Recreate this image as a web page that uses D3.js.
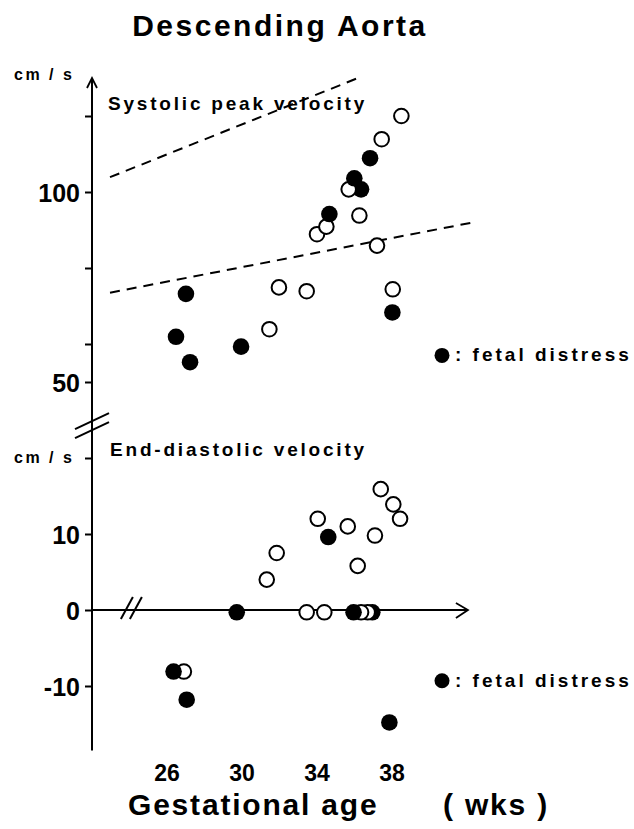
<!DOCTYPE html>
<html>
<head>
<meta charset="utf-8">
<script src="https://cdn.jsdelivr.net/npm/d3@7/dist/d3.min.js"></script>
<style>
  body { margin: 0; background: #fff; }
  svg text { font-family: "Liberation Sans", Arial, sans-serif; font-weight: bold; fill: #000; }
</style>
</head>
<body>
<div id="chart"></div>
<script>
// Systolic peak velocity (cm/s) - weeks, values, fetal distress flag
const sysWeeks    = [38.5, 37.45, 36.83, 36.35, 35.69, 35.99, 36.26, 34.0, 34.5, 34.66, 37.2, 31.97, 33.45, 38.04, 27.01, 38.02, 31.46, 26.48, 29.95, 27.23];
const sysValues   = [120, 113.9, 108.9, 100.7, 100.7, 103.6, 93.8, 88.9, 90.9, 94.2, 85.9, 74.9, 73.9, 74.4, 73.2, 68.3, 63.9, 61.9, 59.3, 55.2];
const sysDistress = [0, 0, 1, 1, 0, 1, 0, 0, 0, 1, 0, 0, 0, 0, 1, 1, 0, 1, 1, 1];

// End-diastolic velocity (cm/s)
const edvWeeks    = [37.4, 38.07, 38.43, 34.04, 35.64, 34.6, 37.09, 31.85, 36.17, 31.32, 29.72, 33.45, 34.39, 36.95, 36.7, 36.35, 35.95, 26.9, 26.35, 27.05, 37.86];
const edvValues   = [15.9, 13.9, 12.0, 12.0, 11.0, 9.6, 9.8, 7.5, 5.8, 4.0, -0.3, -0.3, -0.3, -0.3, -0.3, -0.3, -0.3, -8.1, -8.1, -11.8, -14.8];
const edvDistress = [0, 0, 0, 0, 0, 1, 0, 0, 0, 0, 1, 0, 0, 1, 0, 0, 1, 0, 1, 1, 1];

// normal range (dashed lines)
const upperWeeks  = [22.96, 36.29];
const upperValues = [103.9, 130.2];
const lowerWeeks  = [22.96, 42.32];
const lowerValues = [73.5, 92.0];

// ticks
const xTicks   = [26, 30, 34, 38];
const sysTicks = [50, 60, 80, 100, 120];
const sysLabels = [50, 100];
const edvTicks = [-10, 0, 10, 20];
const edvLabels = [-10, 0, 10];

const width = 634, height = 829;

const svg = d3.select('#chart')
    .append('svg')
    .attr('width', width)
    .attr('height', height);

// scales
const x = d3.scaleLinear().domain([22, 42]).range([92, 467]);
const yTop = d3.scaleLinear().domain([50, 100]).range([382, 192]);
const yBot = d3.scaleLinear().domain([0, 10]).range([610, 534]);

const axisX = x(22);

// title
svg.append('text')
    .attr('x', 280).attr('y', 36)
    .attr('text-anchor', 'middle')
    .style('font-size', '30px')
    .style('letter-spacing', '2.5px')
    .text('Descending Aorta');

// vertical axis line (one line through both panels)
const yAxisTop = yTop(130), yAxisBottom = yBot(-18.5);
svg.append('line')
    .attr('x1', axisX).attr('x2', axisX)
    .attr('y1', yAxisTop).attr('y2', yAxisBottom)
    .attr('stroke', '#000').attr('stroke-width', 2);

// arrow head
svg.append('path')
    .attr('d', `M${axisX - 5},${yAxisTop + 10} L${axisX},${yAxisTop} L${axisX + 5},${yAxisTop + 10}`)
    .attr('fill', 'none').attr('stroke', '#000').attr('stroke-width', 1.8);

// left axes with ticks
function leftAxis(scale, ticks, labels) {
    const g = svg.append('g')
        .attr('transform', `translate(${axisX},0)`)
        .call(d3.axisLeft(scale)
            .tickValues(ticks)
            .tickSize(7)
            .tickPadding(5)
            .tickFormat(d => labels.includes(d) ? d : ''));
    g.select('.domain').remove();
    g.selectAll('.tick line').attr('stroke-width', 2);
    g.selectAll('.tick text')
        .attr('dy', '0.38em')
        .style('font-size', '25px')
        .style('font-family', '"Liberation Sans", Arial, sans-serif');
    return g;
}
leftAxis(yTop, sysTicks, sysLabels);
leftAxis(yBot, edvTicks, edvLabels);

// units
[yTop(130) - 3, yBot(20)].forEach(yy => {
    svg.append('text')
        .attr('x', 14).attr('y', yy + 5)
        .style('font-size', '16px')
        .style('letter-spacing', '2.5px')
        .text('cm / s');
});

// y axis break
[-4.5, 4.5].forEach(off => {
    const cy = yTop(38.5) + off;
    svg.append('line')
        .attr('x1', axisX - 17).attr('y1', cy + 8)
        .attr('x2', axisX + 17).attr('y2', cy - 8)
        .attr('stroke', '#000').attr('stroke-width', 2);
});

// horizontal axis at 0 (diastolic panel)
const xAxisEnd = x(42.05);
svg.append('line')
    .attr('x1', axisX).attr('x2', xAxisEnd)
    .attr('y1', yBot(0)).attr('y2', yBot(0))
    .attr('stroke', '#000').attr('stroke-width', 2);
svg.append('path')
    .attr('d', `M${xAxisEnd - 12},${yBot(0) - 7} L${xAxisEnd},${yBot(0)} L${xAxisEnd - 12},${yBot(0) + 8}`)
    .attr('fill', 'none').attr('stroke', '#000').attr('stroke-width', 1.8);

// x axis break
[-4.5, 4.5].forEach(off => {
    const cx = x(24.1) + off;
    svg.append('line')
        .attr('x1', cx - 6).attr('y1', yBot(0) + 9)
        .attr('x2', cx + 6).attr('y2', yBot(0) - 13)
        .attr('stroke', '#000').attr('stroke-width', 2);
});

// x tick labels
svg.selectAll('.x-label')
    .data(xTicks)
    .enter().append('text')
    .attr('class', 'x-label')
    .attr('x', d => x(d))
    .attr('y', 781)
    .attr('text-anchor', 'middle')
    .style('font-size', '23px')
    .text(d => d);

svg.append('text')
    .attr('x', 128).attr('y', 815)
    .style('font-size', '30px')
    .style('letter-spacing', '1.8px')
    .text('Gestational age');
svg.append('text')
    .attr('x', 443).attr('y', 815)
    .style('font-size', '30px')
    .style('letter-spacing', '1.8px')
    .text('( wks )');

// panel titles
svg.append('text')
    .attr('x', 108).attr('y', 110)
    .style('font-size', '19px')
    .style('letter-spacing', '2.8px')
    .text('Systolic peak velocity');
svg.append('text')
    .attr('x', 110).attr('y', 456)
    .style('font-size', '19px')
    .style('letter-spacing', '2.8px')
    .text('End-diastolic velocity');

// dashed normal range lines
const dashLine = d3.line().x(d => x(d[0])).y(d => yTop(d[1]));
[[upperWeeks, upperValues], [lowerWeeks, lowerValues]].forEach(([w, v]) => {
    svg.append('path')
        .datum(w.map((d, i) => [d, v[i]]))
        .attr('d', dashLine)
        .attr('fill', 'none')
        .attr('stroke', '#000')
        .attr('stroke-width', 2)
        .attr('stroke-dasharray', '10,7');
});

// points
function drawPoints(weeks, values, distress, yScale) {
    const pts = weeks.map((w, i) => ({ w, v: values[i], f: distress[i] }));
    svg.append('g')
        .selectAll('circle')
        .data(pts)
        .enter().append('circle')
        .attr('cx', d => x(d.w))
        .attr('cy', d => yScale(d.v))
        .attr('r', d => d.f ? 8.3 : 7.3)
        .attr('fill', d => d.f ? '#000' : '#fff')
        .attr('stroke', '#000')
        .attr('stroke-width', d => d.f ? 0 : 2);
}
drawPoints(sysWeeks, sysValues, sysDistress, yTop);
drawPoints(edvWeeks, edvValues, edvDistress, yBot);

// legends
[yTop(57), yBot(-9.3)].forEach(yy => {
    svg.append('circle')
        .attr('cx', 442).attr('cy', yy)
        .attr('r', 7.5)
        .attr('fill', '#000');
    svg.append('text')
        .attr('x', 455).attr('y', yy + 6)
        .style('font-size', '19px')
        .style('letter-spacing', '3px')
        .text(': fetal distress');
});
</script>
</body>
</html>
